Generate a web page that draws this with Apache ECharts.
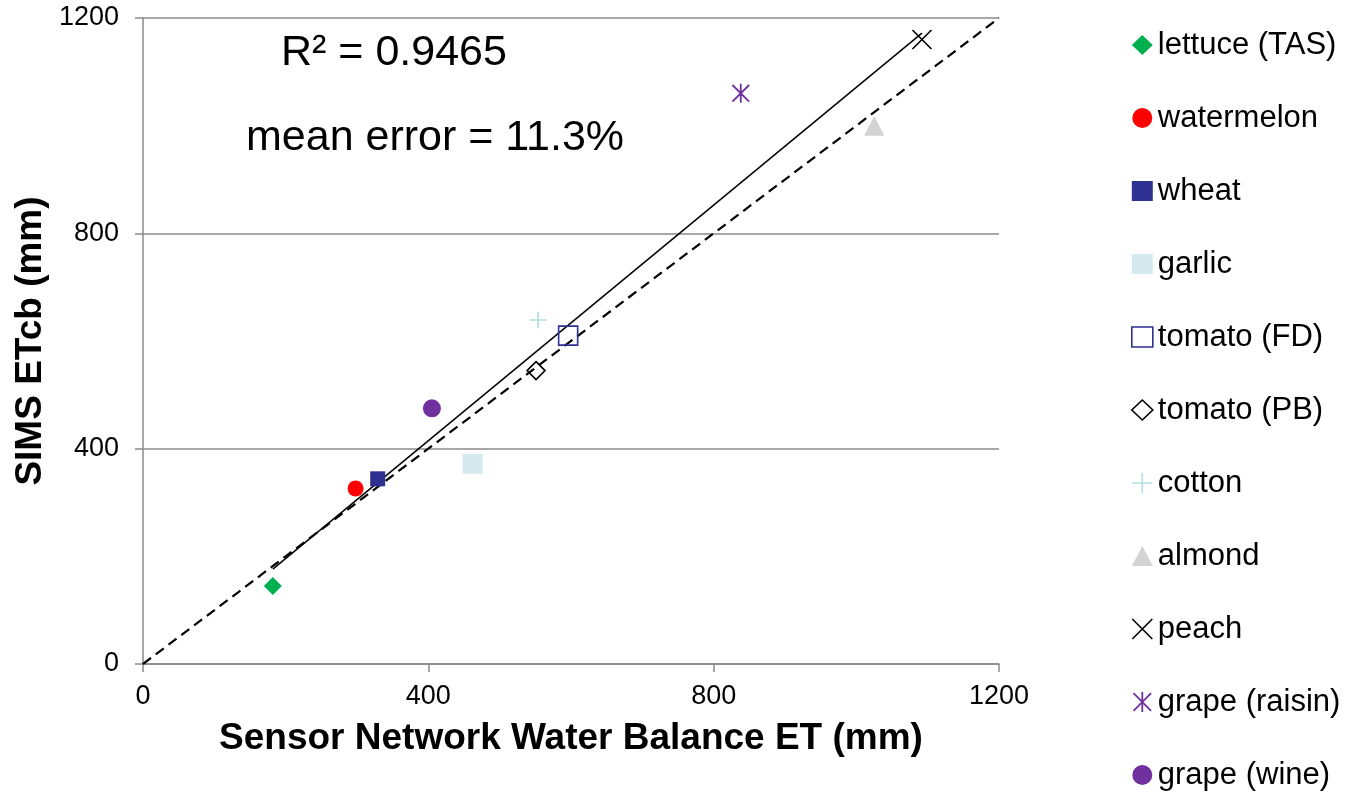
<!DOCTYPE html>
<html>
<head>
<meta charset="utf-8">
<title>SIMS ETcb vs Sensor Network Water Balance ET</title>
<script src="https://cdn.jsdelivr.net/npm/echarts@6/dist/echarts.min.js"></script>
<style>
  html, body { margin: 0; padding: 0; background: #ffffff; }
  #chart { width: 1351px; height: 793px; }
</style>
</head>
<body>
<div id="chart"></div>
<script>
// Crop-level seasonal ET: sensor network water balance (x) vs SIMS ETcb (y), mm
const crops = ['lettuce (TAS)', 'watermelon', 'wheat', 'garlic', 'tomato (FD)', 'tomato (PB)',
               'cotton', 'almond', 'peach', 'grape (raisin)', 'grape (wine)'];
const sensorET = [182, 298, 329, 462, 596, 551, 554, 1025, 1092, 838, 405];
const simsET   = [145, 326, 344, 372, 610, 545, 639, 1000, 1160, 1060, 475];
const axisTicks = [0, 400, 800, 1200];
const statsText = ['R\u00b2 = 0.9465', 'mean error = 11.3%'];
const xTitle = 'Sensor Network Water Balance ET (mm)';
const yTitle = 'SIMS ETcb (mm)';

const FONT = '"Liberation Sans", Arial, Helvetica, sans-serif';
const AXIS_GRAY = '#8a8a8a';

// Marker appearance for each crop
const PLUS = 'path://M5,0L5,10M0,5L10,5';
const CROSS = 'path://M0,0L10,10M10,0L0,10';
const STAR = 'path://M0.6,0.6L9.4,9.4M9.4,0.6L0.6,9.4M5,0L5,10';
const markerStyles = {
  'lettuce (TAS)':  { symbol: 'diamond', size: 18, fill: '#00b050' },
  'watermelon':     { symbol: 'circle',  size: 16, fill: '#ff0000' },
  'wheat':          { symbol: 'rect',    size: 15, fill: '#2e3192' },
  'garlic':         { symbol: 'rect',    size: 20, fill: '#d5e9ee' },
  'tomato (FD)':    { symbol: 'rect',    size: 19, fill: 'rgba(255,255,255,0)', stroke: '#2e3192', width: 1.6 },
  'tomato (PB)':    { symbol: 'diamond', size: 18, fill: 'rgba(255,255,255,0)', stroke: '#000000', width: 1.6 },
  'cotton':         { symbol: PLUS,      size: 17, fill: 'rgba(0,0,0,0)', stroke: '#b4dde3', width: 1.6 },
  'almond':         { symbol: 'triangle',size: 20, fill: '#d3d3d3' },
  'peach':          { symbol: CROSS,     size: 19, fill: 'rgba(0,0,0,0)', stroke: '#000000', width: 1.6 },
  'grape (raisin)': { symbol: STAR,      size: 19, fill: 'rgba(0,0,0,0)', stroke: '#7030a0', width: 1.8 },
  'grape (wine)':   { symbol: 'circle',  size: 18, fill: '#7030a0' }
};

function itemStyleFor(name) {
  const m = markerStyles[name];
  return {
    color: m.fill,
    borderColor: m.stroke || m.fill,
    borderWidth: m.stroke ? m.width : 0,
    opacity: 1
  };
}

// Least-squares trend line over the observed range of x
function linearFit(xs, ys) {
  const n = xs.length;
  const mx = xs.reduce((a, b) => a + b, 0) / n;
  const my = ys.reduce((a, b) => a + b, 0) / n;
  let sxy = 0, sxx = 0;
  for (let i = 0; i < n; i++) {
    sxy += (xs[i] - mx) * (ys[i] - my);
    sxx += (xs[i] - mx) * (xs[i] - mx);
  }
  const slope = sxy / sxx;
  return { slope: slope, intercept: my - slope * mx };
}
const fit = linearFit(sensorET, simsET);
const xLo = Math.min.apply(null, sensorET);
const xHi = Math.max.apply(null, sensorET);
const trendData = [[xLo, fit.intercept + fit.slope * xLo], [xHi, fit.intercept + fit.slope * xHi]];
const axisMin = axisTicks[0];
const axisMax = axisTicks[axisTicks.length - 1];
const oneToOne = [[axisMin, axisMin], [axisMax, axisMax]];

const scatterSeries = crops.map(function (name, i) {
  const m = markerStyles[name];
  return {
    name: name,
    type: 'scatter',
    data: [[sensorET[i], simsET[i]]],
    symbol: m.symbol,
    symbolSize: m.size,
    symbolKeepAspect: true,
    itemStyle: itemStyleFor(name),
    z: 5,
    emphasis: { disabled: true }
  };
});

const chart = echarts.init(document.getElementById('chart'), null, { renderer: 'canvas' });

const plainNumber = function (v) { return String(v); };

chart.setOption({
  animation: false,
  backgroundColor: '#ffffff',
  textStyle: { fontFamily: FONT },
  grid: {
    left: 143, right: 352, top: 18, bottom: 129,
    containLabel: false,
    outerBoundsMode: 'none'
  },
  xAxis: {
    type: 'value',
    min: axisMin, max: axisMax, interval: axisTicks[1] - axisTicks[0],
    name: xTitle,
    nameLocation: 'middle',
    nameGap: 56,
    nameMoveOverlap: false,
    nameTextStyle: { fontFamily: FONT, fontSize: 37, fontWeight: 'bold', color: '#000000' },
    axisLine: { show: true, onZero: false, lineStyle: { color: AXIS_GRAY, width: 1.5 } },
    axisTick: { show: true, inside: false, length: 8, lineStyle: { color: AXIS_GRAY, width: 1.5 } },
    axisLabel: { fontFamily: FONT, fontSize: 27, color: '#000000', margin: 19, formatter: plainNumber },
    splitLine: { show: false }
  },
  yAxis: {
    type: 'value',
    min: axisMin, max: axisMax, interval: axisTicks[1] - axisTicks[0],
    name: yTitle,
    nameLocation: 'middle',
    nameGap: 94,
    nameMoveOverlap: false,
    nameTextStyle: { fontFamily: FONT, fontSize: 37, fontWeight: 'bold', color: '#000000' },
    axisLine: { show: true, onZero: false, lineStyle: { color: AXIS_GRAY, width: 1.5 } },
    axisTick: { show: true, inside: false, length: 8, lineStyle: { color: AXIS_GRAY, width: 1.5 } },
    axisLabel: { fontFamily: FONT, fontSize: 27, color: '#000000', margin: 24, formatter: plainNumber },
    splitLine: { show: true, lineStyle: { color: AXIS_GRAY, width: 1.5 } }
  },
  legend: {
    orient: 'vertical',
    left: 1131,
    top: 27,
    padding: 0,
    itemGap: 37,
    itemWidth: 21,
    itemHeight: 20,
    selectedMode: false,
    textStyle: { fontFamily: FONT, fontSize: 31, color: '#000000', lineHeight: 36 },
    data: crops.map(function (name) {
      return { name: name, icon: markerStyles[name].symbol, itemStyle: itemStyleFor(name) };
    })
  },
  graphic: [
    {
      type: 'text', left: 281, top: 32, silent: true,
      style: { text: statsText[0], fontFamily: FONT, fontSize: 43, fill: '#000000' }
    },
    {
      type: 'text', left: 246, top: 117, silent: true,
      style: { text: statsText[1], fontFamily: FONT, fontSize: 43, fill: '#000000' }
    }
  ],
  series: [
    {
      name: '1:1',
      type: 'line',
      data: oneToOne,
      symbol: 'none',
      silent: true,
      z: 2,
      lineStyle: { color: '#000000', width: 2.2, type: [10, 6] }
    },
    {
      name: 'Linear fit',
      type: 'line',
      data: trendData,
      symbol: 'none',
      silent: true,
      z: 3,
      lineStyle: { color: '#000000', width: 1.5, type: 'solid' }
    }
  ].concat(scatterSeries)
});
</script>
</body>
</html>
